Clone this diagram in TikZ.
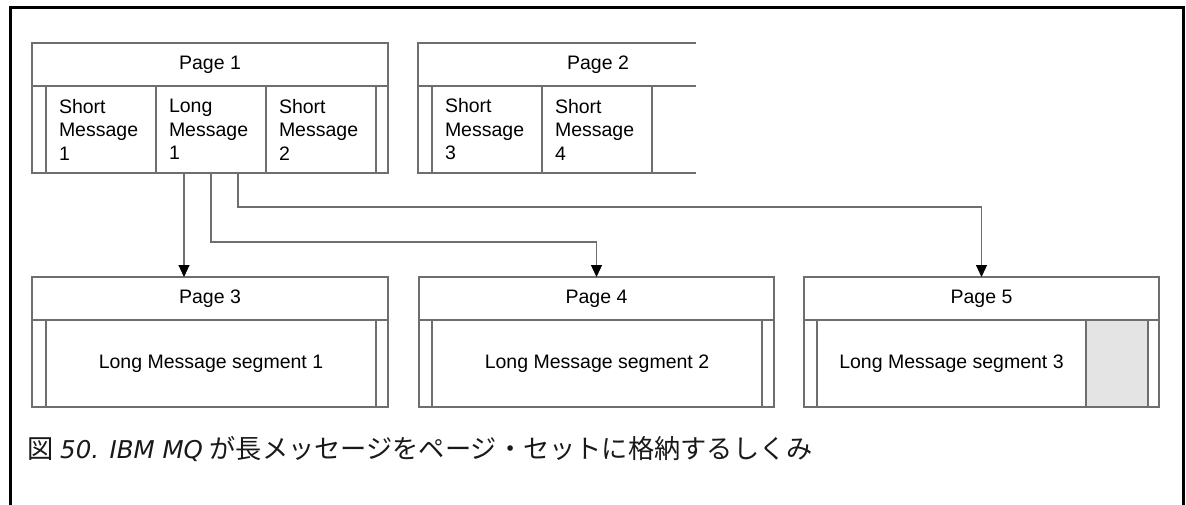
\documentclass[tikz,border=0pt]{standalone}
\usepackage{fontspec}
\setmainfont{Liberation Sans}
\newfontfamily\capfont{DejaVu Sans}
\newfontfamily\cjk[Scale=1.07]{Noto Sans CJK JP}
\usetikzlibrary{arrows.meta,positioning}
\definecolor{boxgray}{HTML}{6E6E6E}
\definecolor{freegray}{HTML}{E4E4E4}

\begin{document}
\begin{tikzpicture}[x=1pt, y=-1pt, line join=miter,
  >={Triangle[length=12pt,width=11pt,color=black]},
  pgline/.style={draw=boxgray, line width=1.2pt},
  pgfont/.style={font=\fontsize{19.5}{23.5}\selectfont},
  pghead/.style={pgline, pgfont, anchor=north west, minimum width=356pt, minimum height=43pt, inner sep=0pt, outer sep=0pt},
  pgbody/.style={pgline, minimum width=356pt, minimum height=87pt, inner sep=0pt, outer sep=0pt},
  cell/.style={pgline, pgfont, anchor=north west, text width=84pt, inner xsep=13pt, inner ysep=0pt, minimum height=87pt, align=left, outer sep=0pt},
  segcell/.style={pgline, pgfont, anchor=north west, minimum height=87pt, inner sep=0pt, outer sep=0pt},
  conn/.style={draw=boxgray, line width=1.2pt, ->}]
  \useasboundingbox (0,0) rectangle (1186,504);

  % Frame round the figure
  \draw[black, line width=3pt] (10,520) |- (1183,7) -- (1183,520);

  % Page 1
  \node[pghead] (p1) at (32,43) {Page 1};
  \node[pgbody, below=0pt of p1] (p1body) {};
  \node[cell] (sm1) at (46,86) {Short\\Message\\1};
  \node[cell, right=0pt of sm1] (lm1) {Long\\Message\\1};
  \node[cell, right=0pt of lm1] (sm2) {Short\\Message\\2};

  % Page 2 (cut off on the right)
  \node[pgfont] (p2) at (598,64.5) {Page 2};
  \draw[pgline] (696,43) -| (418,173) -- (696,173);
  \draw[pgline] (418,86) -- (696,86);
  \node[cell] (sm3) at (432,86) {Short\\Message\\3};
  \node[cell, right=0pt of sm3] (sm4) {Short\\Message\\4};

  % Pages 3, 4, 5
  \node[pghead] (p3) at (32,277) {Page 3};
  \node[pgbody, below=0pt of p3] (p3body) {};
  \node[segcell, minimum width=330pt] (seg1) at (46,320) {Long Message segment 1};

  \node[pghead, minimum width=355pt] (p4) at (419,277) {Page 4};
  \node[pgbody, minimum width=355pt, below=0pt of p4] (p4body) {};
  \node[segcell, minimum width=330pt] (seg2) at (432,320) {Long Message segment 2};

  \node[pghead, minimum width=355pt] (p5) at (804,277) {Page 5};
  \node[pgbody, minimum width=355pt, below=0pt of p5] (p5body) {};
  \node[segcell, minimum width=269pt] (seg3) at (817,320) {Long Message segment 3};
  \node[segcell, fill=freegray, minimum width=62pt, right=0pt of seg3] (free5) {};

  % Long message split over three pages
  \draw[conn] ([xshift=-27pt]lm1.south) -- ([xshift=-27pt]lm1.south |- p3.north);
  \draw[conn] (lm1.south) -- ++(0,69) -| (p4.north);
  \draw[conn] ([xshift=27pt]lm1.south) -- ++(0,34) -| (p5.north);

  % Caption
  \node[anchor=base west, inner sep=0pt, text=black!90, font=\fontsize{24.5}{29}\selectfont] (cap) at (27,458)
    {{\cjk 図} {\capfont\itshape 50. IBM MQ} {\cjk が長メッセージをページ・セットに格納するしくみ}};
\end{tikzpicture}
\end{document}
